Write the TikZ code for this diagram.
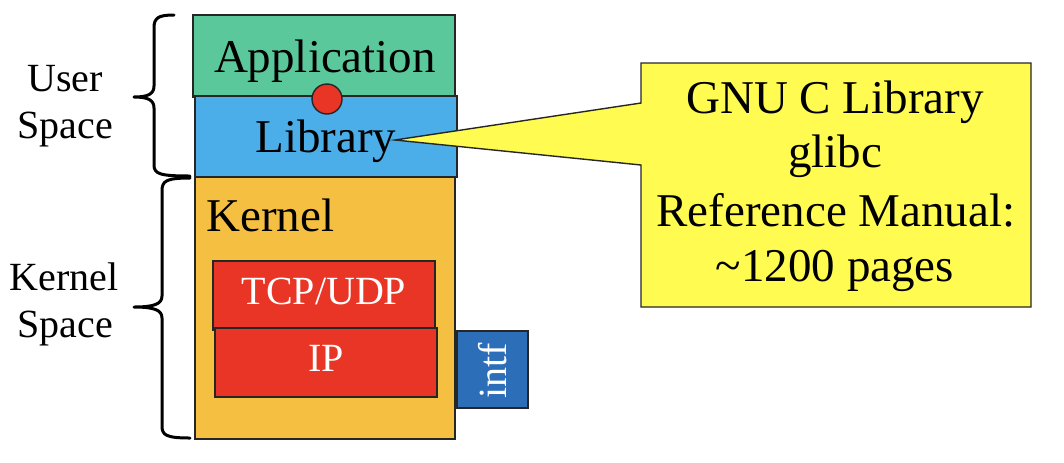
\documentclass[tikz,border=0pt]{standalone}
\usepackage{fontspec}
\setmainfont{Liberation Serif}
\usetikzlibrary{fit}
\definecolor{appgreen}{RGB}{91,200,156}
\definecolor{libblue}{RGB}{75,174,232}
\definecolor{kernorange}{RGB}{245,191,66}
\definecolor{tcpred}{RGB}{233,53,38}
\definecolor{intfblue}{RGB}{45,110,185}
\definecolor{callyellow}{RGB}{255,251,80}
\tikzset{
  box/.style={draw=black!85, line width=0.7pt, inner sep=0pt},
  big/.style={inner sep=0pt, font=\fontsize{23.5}{28}\selectfont},
  mid/.style={inner sep=0pt, font=\fontsize{20}{24}\selectfont},
  bracepath/.style={draw=black, line width=1.5pt, line cap=round, line join=round},
}
\begin{document}
\begin{tikzpicture}[x=0.5pt,y=-0.5pt]
\useasboundingbox (0,0) rectangle (1064,462);
% layers
\node[box, fill=appgreen, fit={(193,15) (455,97)}] (app) {};
\node[box, fill=libblue, fit={(195,96) (457,177)}] (lib) {};
\node[box, fill=kernorange, fit={(195,177) (455,439)}] (kern) {};
\node[box, fill=tcpred, fit={(213,261) (435,330)}] (tcp) {};
\node[box, fill=tcpred, fit={(215,328) (437,397)}] (ip) {};
\node[box, fill=intfblue, fit={(457,331) (528,408)}] (intf) {};
\node[box, fill=tcpred, circle, minimum size=15pt] (dot) at (327,99) {};
% texts
\node[big, anchor=base] (apptxt) at (325,72) {Application};
\node[big, anchor=base] (libtxt) at (326,152) {Library};
\node[big, anchor=base west] (kerntxt) at (206,231) {Kernel};
\node[mid, anchor=base, text=white] (tcptxt) at (324,304) {TCP/UDP};
\node[mid, anchor=base, text=white] (iptxt) at (326,371) {IP};
\node[mid, rotate=90, text=white] (intftxt) at (493,371) {intf};
% callout
\coordinate (tip) at (395,140);
\path[draw=black!85, line width=0.7pt, fill=callyellow]
  (641,63) -- (1031,63) -- (1031,307) -- (641,307) -- (641,165) -- (tip) -- (641,103) -- cycle;
\node[big, anchor=base] (c1) at (835,113) {GNU C Library};
\node[big, anchor=base] (c2) at (835,167) {glibc};
\node[big, anchor=base] (c3) at (836,226) {Reference Manual:};
\node[big, anchor=base] (c4) at (835,281) {\char"7E 1200 pages};
% side labels
\node[mid, anchor=base] (u1) at (65,91) {User};
\node[mid, anchor=base] (u2) at (65,138) {Space};
\node[mid, anchor=base] (k1) at (64,290) {Kernel};
\node[mid, anchor=base] (k2) at (65,337) {Space};
% braces
\path[bracepath] (174,15) .. controls (158,15) and (154,18) .. (154,28) -- (154,86)
  .. controls (154,94) and (148,97) .. (134,97)
  .. controls (148,97) and (154,100) .. (154,108) -- (154,165)
  .. controls (154,174) and (160,176) .. (190,176);
\path[bracepath] (190,178) .. controls (166,178) and (162,181) .. (162,191) -- (162,296)
  .. controls (162,304) and (154,307) .. (134,307)
  .. controls (154,307) and (162,310) .. (162,318) -- (162,426)
  .. controls (162,435) and (166,438) .. (190,438);
\end{tikzpicture}
\end{document}
